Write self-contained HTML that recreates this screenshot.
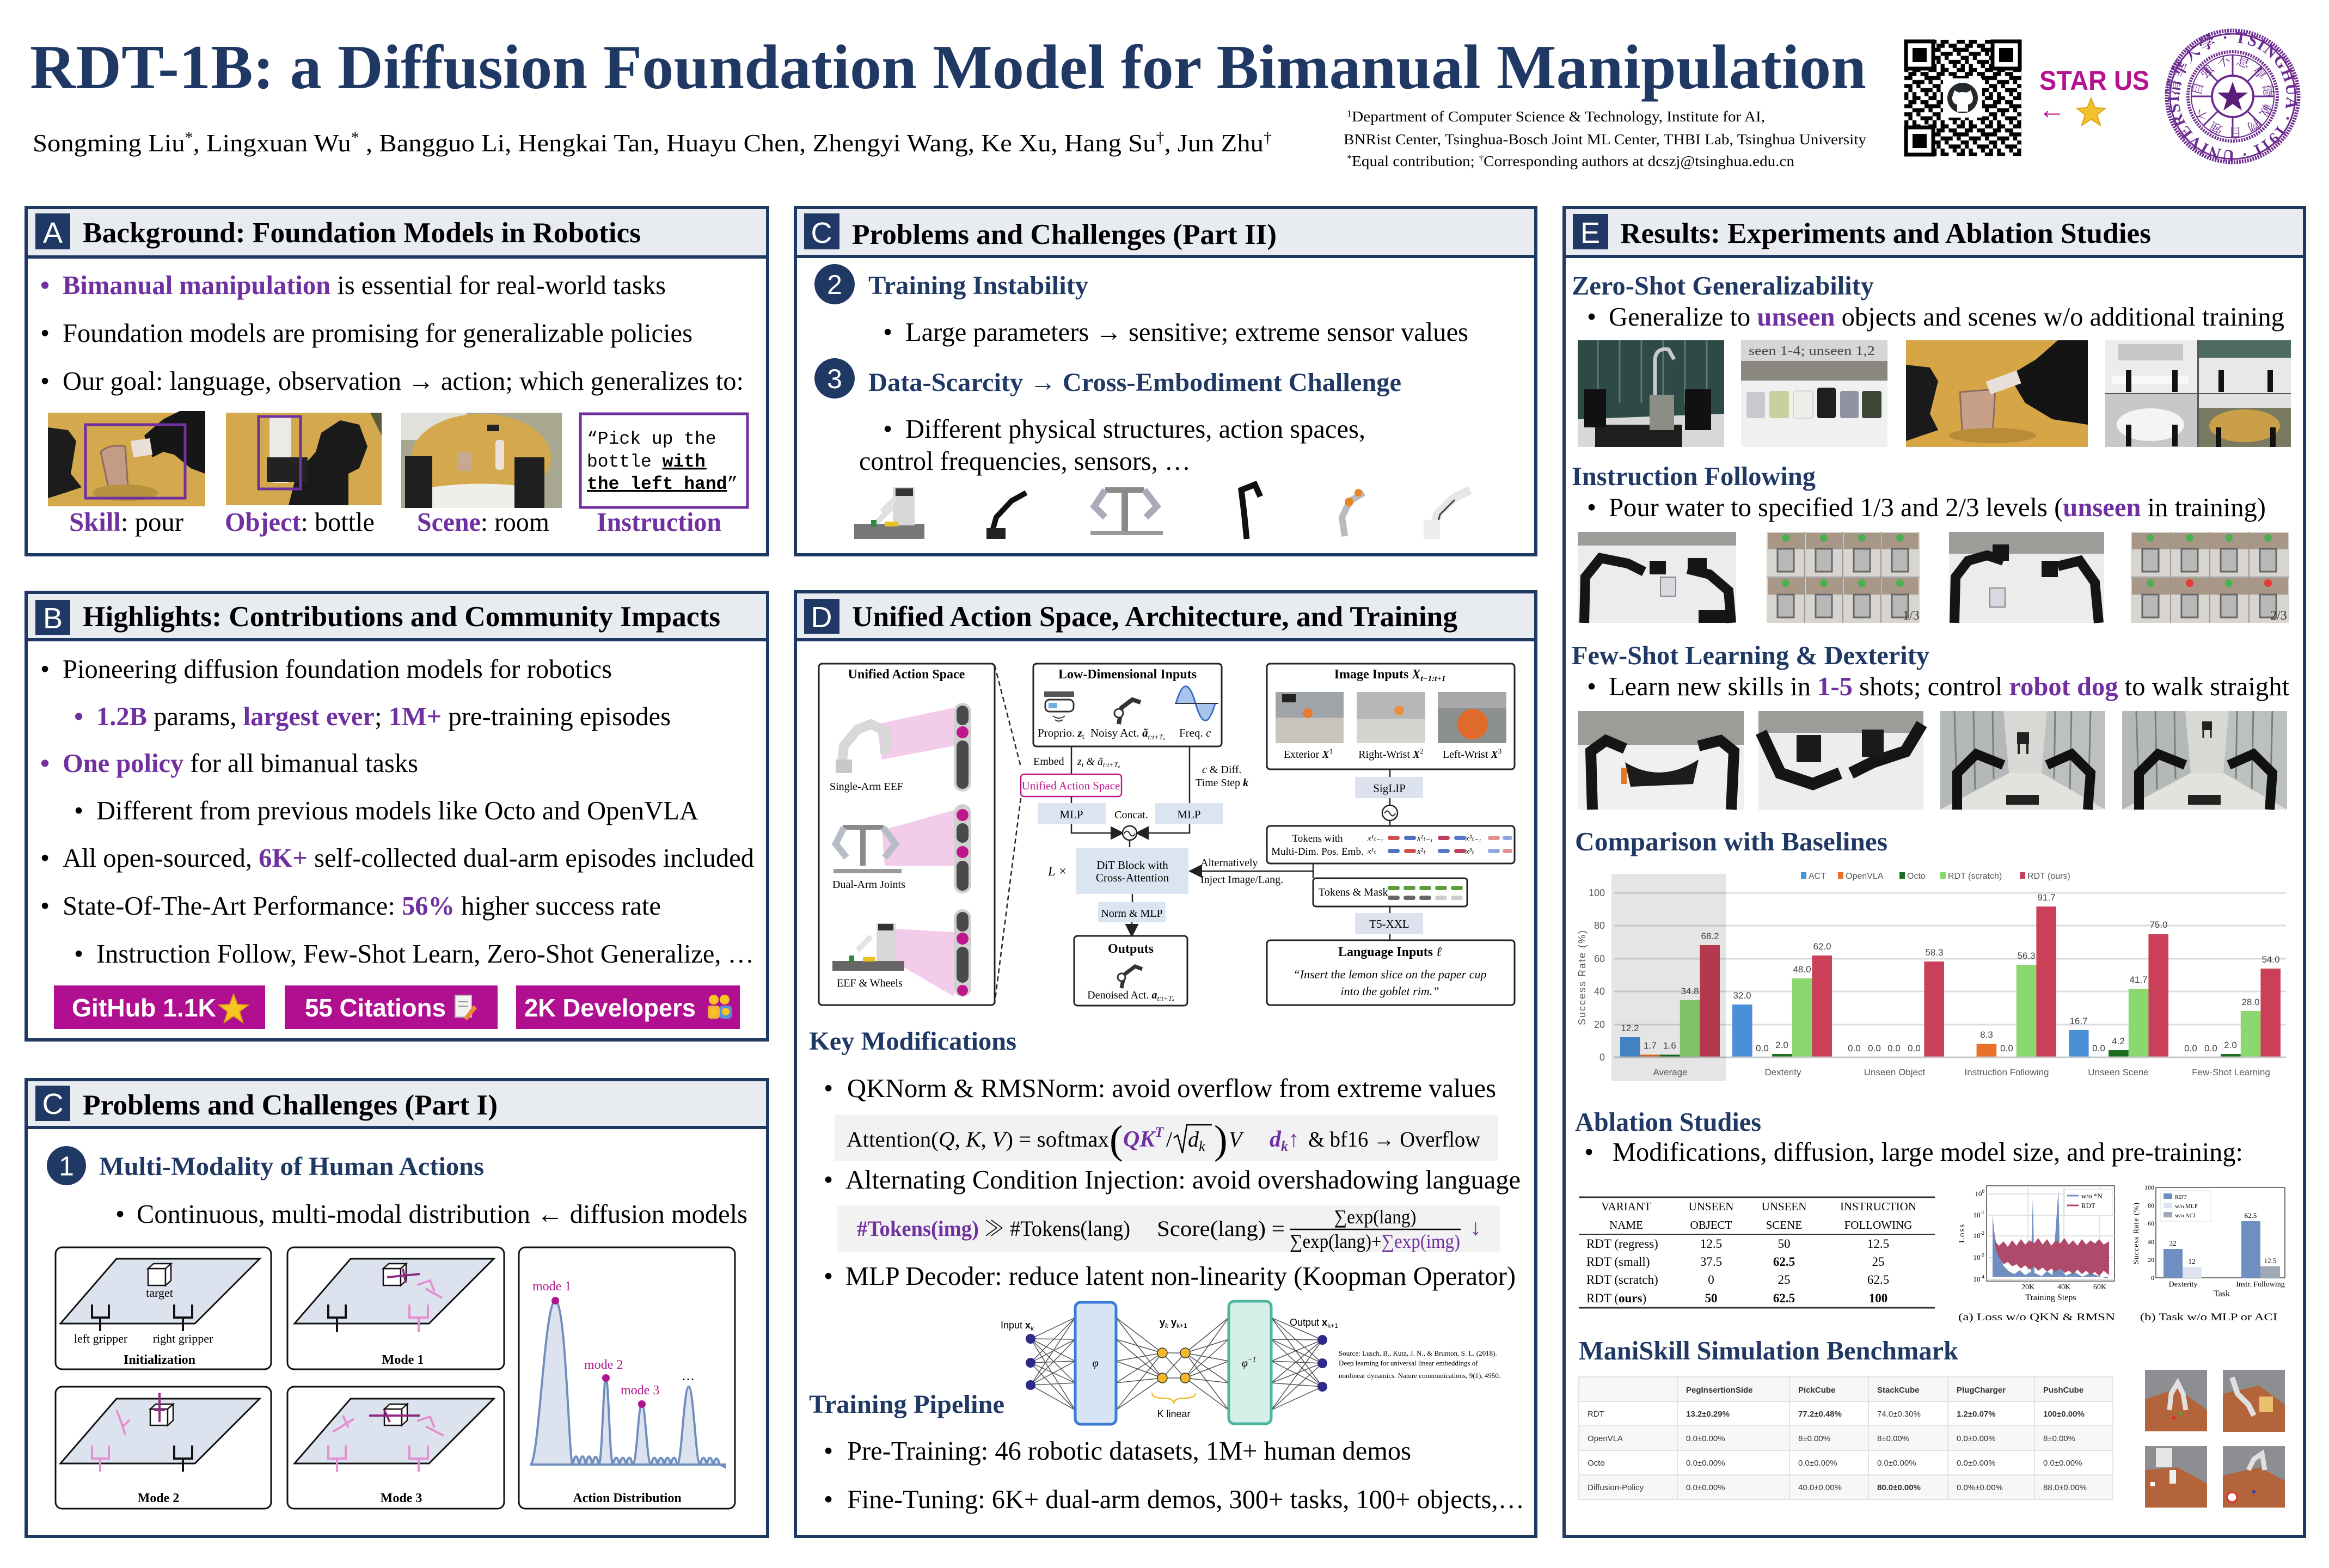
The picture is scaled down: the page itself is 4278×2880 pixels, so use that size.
<!DOCTYPE html>
<html><head><meta charset="utf-8">
<style>
html,body{margin:0;padding:0;background:#fff;}
svg{display:block}
.s{font-family:"Liberation Serif","Noto Serif CJK SC",serif}
.a{font-family:"Liberation Sans","Noto Sans CJK SC",sans-serif}
.m{font-family:"Liberation Mono",monospace}
.b{font-weight:bold}
.i{font-style:italic}
.p{fill:#7030a0;font-weight:bold}
.n{fill:#203864}
</style></head><body>
<svg width="4278" height="2880" viewBox="0 0 4278 2880" xmlns="http://www.w3.org/2000/svg">
<defs>
<pattern id="qr" x="3498" y="73" width="51.8" height="51.8" patternUnits="userSpaceOnUse">
<rect x="0" y="0" width="7.4" height="7.4"/><rect x="14.8" y="0" width="14.8" height="7.4"/><rect x="44.4" y="0" width="7.4" height="7.4"/>
<rect x="7.4" y="7.4" width="14.8" height="7.4"/><rect x="29.6" y="7.4" width="14.8" height="7.4"/>
<rect x="0" y="14.8" width="14.8" height="7.4"/><rect x="37" y="14.8" width="14.8" height="7.4"/>
<rect x="14.8" y="22.2" width="22.2" height="7.4"/><rect x="44.4" y="22.2" width="7.4" height="7.4"/>
<rect x="0" y="29.6" width="14.8" height="7.4"/><rect x="22.2" y="29.6" width="7.4" height="7.4"/>
<rect x="7.4" y="37" width="7.4" height="7.4"/><rect x="29.6" y="37" width="22.2" height="7.4"/>
<rect x="0" y="44.4" width="7.4" height="7.4"/><rect x="14.8" y="44.4" width="7.4" height="7.4"/><rect x="37" y="44.4" width="7.4" height="7.4"/>
</pattern>
<path id="tp" d="M4101,177 m-99,0 a99,99 0 1,1 198,0 a99,99 0 1,1 -198,0"/>
<path id="tp2" d="M4101,177 m-58,0 a58,58 0 1,1 116,0 a58,58 0 1,1 -116,0"/>
<marker id="ar" markerWidth="10" markerHeight="10" refX="8" refY="5" orient="auto"><path d="M0,0 L10,5 L0,10 z" fill="#222"/></marker>
</defs>
<rect width="4278" height="2880" fill="#fff"/>

<!-- ===== TITLE ===== -->
<text x="55" y="162" class="s b" font-size="116" fill="#203864" textLength="3373" lengthAdjust="spacingAndGlyphs">RDT-1B: a Diffusion Foundation Model for Bimanual Manipulation</text>
<text x="60" y="278" class="s" font-size="45" textLength="2276" lengthAdjust="spacingAndGlyphs">Songming Liu<tspan dy="-16" font-size="28">*</tspan><tspan dy="16">, Lingxuan Wu</tspan><tspan dy="-16" font-size="28">*</tspan><tspan dy="16"> , Bangguo Li, Hengkai Tan, Huayu Chen, Zhengyi Wang, Ke Xu, Hang Su</tspan><tspan dy="-16" font-size="28">†</tspan><tspan dy="16">, Jun Zhu</tspan><tspan dy="-16" font-size="28">†</tspan></text>
<text x="2474" y="223" class="s" font-size="27" textLength="768" lengthAdjust="spacingAndGlyphs"><tspan dy="-9" font-size="17">1</tspan><tspan dy="9">Department of Computer Science &amp; Technology, Institute for AI,</tspan></text>
<text x="2468" y="265" class="s" font-size="27" textLength="960" lengthAdjust="spacingAndGlyphs">BNRist Center, Tsinghua-Bosch Joint ML Center, THBI Lab, Tsinghua University</text>
<text x="2474" y="305" class="s" font-size="27" textLength="822" lengthAdjust="spacingAndGlyphs"><tspan dy="-9" font-size="17">*</tspan><tspan dy="9">Equal contribution; </tspan><tspan dy="-9" font-size="17">†</tspan><tspan dy="9">Corresponding authors at dcszj@tsinghua.edu.cn</tspan></text>

<!-- QR -->
<rect x="3498" y="73" width="215" height="214" fill="url(#qr)"/>
<g>
<rect x="3498" y="73" width="56" height="56" fill="#fff"/><rect x="3501" y="76" width="50" height="50" fill="none" stroke="#000" stroke-width="7"/><rect x="3513" y="88" width="26" height="26"/>
<rect x="3657" y="73" width="56" height="56" fill="#fff"/><rect x="3660" y="76" width="50" height="50" fill="none" stroke="#000" stroke-width="7"/><rect x="3672" y="88" width="26" height="26"/>
<rect x="3498" y="231" width="56" height="56" fill="#fff"/><rect x="3501" y="234" width="50" height="50" fill="none" stroke="#000" stroke-width="7"/><rect x="3513" y="246" width="26" height="26"/>
<rect x="3569" y="144" width="72" height="72" fill="#fff"/><circle cx="3605" cy="180" r="28" fill="#24292e"/>
<path d="M3595,205 L3595,192 Q3585,190 3586,178 L3590,166 L3598,170 Q3605,168 3612,170 L3620,166 L3624,178 Q3625,190 3615,192 L3615,205 Z" fill="#fff"/>
</g>
<text x="3746" y="165" class="a b" font-size="50" fill="#b5128f" textLength="202" lengthAdjust="spacingAndGlyphs">STAR US</text>
<text x="3744" y="218" class="a" font-size="50" fill="#b5128f">←</text>
<polygon points="3841,180 3848,198 3867,199 3852,211 3858,230 3841,219 3824,230 3830,211 3815,199 3834,198" fill="#f2c12e" stroke="#d9a514" stroke-width="2"/>

<!-- Tsinghua logo -->
<g fill="none" stroke="#6d2c8f">
<circle cx="4101" cy="177" r="121" stroke-width="7" stroke-dasharray="3,2"/>
<circle cx="4101" cy="177" r="115" stroke-width="3"/>
<circle cx="4101" cy="177" r="82" stroke-width="6" stroke-dasharray="3,2"/>
<circle cx="4101" cy="177" r="76" stroke-width="2"/>
<circle cx="4101" cy="177" r="38" stroke-width="4"/>
<g stroke-width="3">
<line x1="4101" y1="139" x2="4101" y2="101"/><line x1="4101" y1="215" x2="4101" y2="253"/>
<line x1="4063" y1="177" x2="4025" y2="177"/><line x1="4139" y1="177" x2="4177" y2="177"/>
<line x1="4128" y1="150" x2="4155" y2="123"/><line x1="4074" y1="150" x2="4047" y2="123"/>
<line x1="4128" y1="204" x2="4155" y2="231"/><line x1="4074" y1="204" x2="4047" y2="231"/>
</g>
</g>
<text class="s b" font-size="30" fill="#6d2c8f" letter-spacing="2"><textPath href="#tp">清華大學 · TSINGHUA · 1911 · UNIVERSITY · 清華大學 ·</textPath></text>
<text class="s" font-size="24" fill="#6d2c8f" letter-spacing="8"><textPath href="#tp2">自強不息厚德載物自強不息</textPath></text>
<polygon points="4101,150 4108,170 4129,170 4112,183 4118,203 4101,191 4084,203 4090,183 4073,170 4094,170" fill="#5a1e7a"/>

<!-- ===== PANEL A ===== -->
<rect x="48" y="381" width="1362" height="638" fill="#fff" stroke="#203864" stroke-width="6"/>
<rect x="51" y="384" width="1356" height="88" fill="#e8ebf0"/>
<line x1="48" y1="472" x2="1410" y2="472" stroke="#203864" stroke-width="6"/>
<rect x="65" y="392" width="64" height="66" fill="#203864"/>
<text x="97" y="446" text-anchor="middle" class="a" font-size="54" fill="#fff">A</text>
<text x="152" y="445" class="s b" font-size="53" textLength="1025" lengthAdjust="spacingAndGlyphs">Background: Foundation Models in Robotics</text>

<text x="74" y="540" class="s b" font-size="49" fill="#7030a0">•</text>
<text x="115" y="540" class="s" font-size="49" textLength="1108" lengthAdjust="spacingAndGlyphs"><tspan class="p">Bimanual manipulation</tspan> is essential for real-world tasks</text>
<text x="74" y="628" class="s" font-size="49">•</text>
<text x="115" y="628" class="s" font-size="49" textLength="1157" lengthAdjust="spacingAndGlyphs">Foundation models are promising for generalizable policies</text>
<text x="74" y="716" class="s" font-size="49">•</text>
<text x="115" y="716" class="s" font-size="49" textLength="1251" lengthAdjust="spacingAndGlyphs">Our goal: language, observation → action; which generalizes to:</text>

<!-- A images -->
<g>
<rect x="88" y="758" width="289" height="172" fill="#d4a94e"/>
<polygon points="88,785 125,790 140,810 130,870 150,895 120,905 88,915" fill="#1c1c1c"/>
<polygon points="265,800 300,770 330,755 377,755 377,870 350,860 320,835 300,830 280,840" fill="#161616"/>
<polygon points="240,810 275,805 280,835 245,840" fill="#e8e0d8"/>
<path d="M185,830 Q200,815 230,820 L235,895 Q220,908 200,900 Z" fill="#c49c86" stroke="#8c6c60" stroke-width="3"/>
<ellipse cx="230" cy="905" rx="60" ry="15" fill="#b8913e"/>
<rect x="157" y="780" width="183" height="135" fill="none" stroke="#7030a0" stroke-width="5"/>
</g>
<g>
<rect x="415" y="758" width="286" height="170" fill="#d4a94e"/>
<polygon points="680,758 701,758 701,800" fill="#5a5a3a"/>
<polygon points="530,928 545,870 580,830 590,795 625,772 660,780 675,820 660,860 640,870 640,928" fill="#1a1a1a"/>
<rect x="495" y="762" width="40" height="125" rx="10" fill="#eceae6"/>
<rect x="490" y="840" width="75" height="45" fill="#222"/>
<rect x="475" y="765" width="77" height="133" fill="none" stroke="#7030a0" stroke-width="5"/>
</g>
<g>
<rect x="737" y="758" width="295" height="175" fill="#a8a890"/>
<rect x="737" y="758" width="120" height="50" fill="#e0e0dc"/>
<ellipse cx="884" cy="840" rx="128" ry="80" fill="#d4a94e"/>
<path d="M780,897 Q884,880 990,897 L985,933 L785,933 Z" fill="#f0eee8"/>
<rect x="744" y="838" width="50" height="95" fill="#1e1e1e"/>
<rect x="945" y="840" width="55" height="93" fill="#1e1e1e"/>
<rect x="840" y="830" width="25" height="35" fill="#c8a890"/>
<rect x="910" y="808" width="16" height="55" rx="5" fill="#ece0d8"/>
<rect x="895" y="780" width="22" height="12" fill="#222"/>
</g>
<rect x="1066" y="760" width="307" height="172" fill="#fff" stroke="#7030a0" stroke-width="5"/>
<text x="1078" y="815" class="m" font-size="33">“Pick up the</text>
<text x="1078" y="857" class="m" font-size="33">bottle <tspan font-weight="bold" text-decoration="underline">with</tspan></text>
<text x="1078" y="898" class="m" font-size="33"><tspan font-weight="bold" text-decoration="underline">the left hand</tspan>”</text>
<line x1="1078" y1="902" x2="1312" y2="902" stroke="#000" stroke-width="2.5"/>
<line x1="1226" y1="861" x2="1298" y2="861" stroke="#000" stroke-width="2.5"/>

<text x="127" y="975" class="s" font-size="49" textLength="210" lengthAdjust="spacingAndGlyphs"><tspan class="p">Skill</tspan>: pour</text>
<text x="413" y="975" class="s" font-size="49" textLength="275" lengthAdjust="spacingAndGlyphs"><tspan class="p">Object</tspan>: bottle</text>
<text x="766" y="975" class="s" font-size="49" textLength="243" lengthAdjust="spacingAndGlyphs"><tspan class="p">Scene</tspan>: room</text>
<text x="1096" y="975" class="s p" font-size="49" textLength="229" lengthAdjust="spacingAndGlyphs">Instruction</text>

<!-- ===== PANEL B ===== -->
<rect x="48" y="1088" width="1362" height="822" fill="#fff" stroke="#203864" stroke-width="6"/>
<rect x="51" y="1091" width="1356" height="84" fill="#e8ebf0"/>
<line x1="48" y1="1175" x2="1410" y2="1175" stroke="#203864" stroke-width="6"/>
<rect x="65" y="1102" width="64" height="64" fill="#203864"/>
<text x="97" y="1154" text-anchor="middle" class="a" font-size="54" fill="#fff">B</text>
<text x="152" y="1150" class="s b" font-size="53" textLength="1171" lengthAdjust="spacingAndGlyphs">Highlights: Contributions and Community Impacts</text>

<text x="74" y="1245" class="s" font-size="49">•</text>
<text x="115" y="1245" class="s" font-size="49" textLength="1009" lengthAdjust="spacingAndGlyphs">Pioneering diffusion foundation models for robotics</text>
<text x="136" y="1332" class="s b" font-size="49" fill="#7030a0">•</text>
<text x="177" y="1332" class="s" font-size="49" textLength="1055" lengthAdjust="spacingAndGlyphs"><tspan class="p">1.2B</tspan> params, <tspan class="p">largest ever</tspan>; <tspan class="p">1M+</tspan> pre-training episodes</text>
<text x="74" y="1418" class="s b" font-size="49" fill="#7030a0">•</text>
<text x="115" y="1418" class="s" font-size="49" textLength="653" lengthAdjust="spacingAndGlyphs"><tspan class="p">One policy</tspan> for all bimanual tasks</text>
<text x="136" y="1505" class="s" font-size="49">•</text>
<text x="177" y="1505" class="s" font-size="49" textLength="1106" lengthAdjust="spacingAndGlyphs">Different from previous models like Octo and OpenVLA</text>
<text x="74" y="1592" class="s" font-size="49">•</text>
<text x="115" y="1592" class="s" font-size="49" textLength="1270" lengthAdjust="spacingAndGlyphs">All open-sourced, <tspan class="p">6K+</tspan> self-collected dual-arm episodes included</text>
<text x="74" y="1680" class="s" font-size="49">•</text>
<text x="115" y="1680" class="s" font-size="49" textLength="1099" lengthAdjust="spacingAndGlyphs">State-Of-The-Art Performance: <tspan class="p">56%</tspan> higher success rate</text>
<text x="136" y="1768" class="s" font-size="49">•</text>
<text x="177" y="1768" class="s" font-size="49" textLength="1208" lengthAdjust="spacingAndGlyphs">Instruction Follow, Few-Shot Learn, Zero-Shot Generalize, …</text>

<rect x="99" y="1810" width="388" height="80" fill="#b01090"/>
<text x="132" y="1867" class="a b" font-size="46" fill="#fff" textLength="265" lengthAdjust="spacingAndGlyphs">GitHub 1.1K</text>
<polygon points="429,1826 436,1845 456,1846 440,1858 446,1878 429,1866 412,1878 418,1858 402,1846 422,1845" fill="#f7c325" stroke="#e0a010" stroke-width="2"/>
<rect x="523" y="1810" width="391" height="80" fill="#b01090"/>
<text x="560" y="1867" class="a b" font-size="46" fill="#fff" textLength="259" lengthAdjust="spacingAndGlyphs">55 Citations</text>
<rect x="836" y="1828" width="30" height="40" fill="#f2f2f2" stroke="#bbb" stroke-width="2"/>
<line x1="842" y1="1840" x2="860" y2="1840" stroke="#999" stroke-width="2"/><line x1="842" y1="1848" x2="860" y2="1848" stroke="#999" stroke-width="2"/>
<polygon points="852,1870 870,1846 876,1852 858,1874" fill="#f08a30"/>
<rect x="948" y="1810" width="411" height="80" fill="#b01090"/>
<text x="963" y="1867" class="a b" font-size="46" fill="#fff" textLength="315" lengthAdjust="spacingAndGlyphs">2K Developers</text>
<circle cx="1311" cy="1836" r="9" fill="#f7c325"/><circle cx="1331" cy="1836" r="9" fill="#f7c325"/>
<rect x="1300" y="1847" width="22" height="24" rx="5" fill="#f4b03a"/><rect x="1322" y="1847" width="22" height="24" rx="5" fill="#5b8fd8"/>
<circle cx="1311" cy="1858" r="7" fill="#f7c325"/><circle cx="1333" cy="1858" r="7" fill="#f7c325"/>

<!-- ===== PANEL C-I ===== -->
<rect x="48" y="1983" width="1362" height="839" fill="#fff" stroke="#203864" stroke-width="6"/>
<rect x="51" y="1986" width="1356" height="85" fill="#e8ebf0"/>
<line x1="48" y1="2071" x2="1410" y2="2071" stroke="#203864" stroke-width="6"/>
<rect x="65" y="1994" width="64" height="65" fill="#203864"/>
<text x="97" y="2046" text-anchor="middle" class="a" font-size="54" fill="#fff">C</text>
<text x="152" y="2047" class="s b" font-size="53" textLength="762" lengthAdjust="spacingAndGlyphs">Problems and Challenges (Part I)</text>

<circle cx="122" cy="2141" r="36" fill="#203864"/>
<text x="122" y="2159" text-anchor="middle" class="a" font-size="50" fill="#fff">1</text>
<text x="182" y="2158" class="s b n" font-size="48" textLength="707" lengthAdjust="spacingAndGlyphs">Multi-Modality of Human Actions</text>
<text x="212" y="2246" class="s" font-size="49">•</text>
<text x="251" y="2246" class="s" font-size="49" textLength="1122" lengthAdjust="spacingAndGlyphs">Continuous, multi-modal distribution ← diffusion models</text>

<g fill="#fff" stroke="#111" stroke-width="3">
<rect x="102" y="2291" width="396" height="224" rx="12"/>
<rect x="528" y="2291" width="398" height="224" rx="12"/>
<rect x="102" y="2547" width="396" height="224" rx="12"/>
<rect x="528" y="2547" width="398" height="224" rx="12"/>
<rect x="953" y="2291" width="397" height="480" rx="12"/>
</g>
<g fill="#dde3ee" stroke="#111" stroke-width="3">
<polygon points="214,2312 477,2312 358,2431 111,2431"/>
<polygon points="644,2312 907,2312 788,2431 541,2431"/>
<polygon points="214,2569 477,2569 358,2688 111,2688"/>
<polygon points="644,2569 907,2569 788,2688 541,2688"/>
</g>
<g fill="#fff" stroke="#111" stroke-width="2.5">
<rect x="272" y="2330" width="32" height="31"/><polygon points="272,2330 282,2321 314,2321 304,2330"/><polygon points="304,2330 314,2321 314,2352 304,2361"/>
<rect x="704" y="2330" width="32" height="31"/><polygon points="704,2330 714,2321 746,2321 736,2330"/><polygon points="736,2330 746,2321 746,2352 736,2361"/>
<rect x="276" y="2588" width="32" height="30"/><polygon points="276,2588 286,2579 318,2579 308,2588"/><polygon points="308,2588 318,2579 318,2609 308,2618"/>
<rect x="706" y="2588" width="32" height="30"/><polygon points="706,2588 716,2579 748,2579 738,2588"/><polygon points="738,2588 748,2579 748,2609 738,2618"/>
</g>
<text x="293" y="2382" text-anchor="middle" class="s" font-size="22">target</text>
<g fill="none" stroke-width="4">
<path d="M169,2396 V2420 H200 V2396 M184,2420 V2445" stroke="#111"/>
<path d="M320,2396 V2420 H353 V2396 M336,2420 V2445" stroke="#111"/>
<path d="M603,2396 V2420 H635 V2396 M619,2420 V2447" stroke="#111"/>
<path d="M752,2396 V2420 H786 V2396 M769,2420 V2447" stroke="#e58fd0"/>
<path d="M711,2346 L771,2340 M740,2330 L745,2356" stroke="#8e2a7f"/>
<path d="M766,2360 L790,2352 L798,2372 M782,2367 L812,2384" stroke="#e58fd0"/>
<path d="M169,2655 V2679 H200 V2655 M184,2679 V2703" stroke="#e58fd0"/>
<path d="M320,2655 V2679 H353 V2655 M336,2679 V2703" stroke="#111"/>
<path d="M293,2558 V2612 M283,2590 H303" stroke="#8e2a7f"/>
<path d="M214,2590 L226,2620 M226,2620 L238,2608 M222,2610 L230,2635" stroke="#e58fd0"/>
<path d="M603,2655 V2679 H635 V2655 M619,2679 V2703" stroke="#e58fd0"/>
<path d="M752,2655 V2679 H786 V2655 M769,2679 V2703" stroke="#e58fd0"/>
<path d="M678,2600 H771 M706,2590 L716,2612" stroke="#8e2a7f"/>
<path d="M611,2630 L650,2606 M630,2600 L640,2622" stroke="#e58fd0"/>
<path d="M766,2610 L790,2602 L798,2622 M782,2620 L815,2637" stroke="#e58fd0"/>
</g>
<text x="185" y="2466" text-anchor="middle" class="s" font-size="22">left gripper</text>
<text x="336" y="2466" text-anchor="middle" class="s" font-size="22">right gripper</text>
<text x="293" y="2505" text-anchor="middle" class="s b" font-size="24">Initialization</text>
<text x="740" y="2505" text-anchor="middle" class="s b" font-size="24">Mode 1</text>
<text x="291" y="2759" text-anchor="middle" class="s b" font-size="24">Mode 2</text>
<text x="737" y="2759" text-anchor="middle" class="s b" font-size="24">Mode 3</text>
<text x="1152" y="2759" text-anchor="middle" class="s b" font-size="24">Action Distribution</text>
<path d="M974,2690 C990,2690 1000,2389 1020,2389 C1040,2389 1045,2690 1052,2690 Q1058,2660 1064,2690 Q1070,2660 1076,2690 Q1082,2660 1088,2690 Q1094,2662 1100,2690 C1106,2690 1108,2531 1113,2531 C1118,2531 1120,2690 1126,2690 Q1132,2665 1138,2690 Q1144,2665 1150,2690 Q1156,2665 1162,2690 C1170,2690 1172,2579 1179,2579 C1186,2579 1188,2690 1196,2690 Q1202,2665 1208,2690 Q1214,2665 1220,2690 Q1226,2665 1232,2690 Q1238,2665 1244,2690 C1252,2690 1256,2547 1265,2547 C1274,2547 1278,2690 1286,2690 Q1292,2665 1298,2690 Q1304,2665 1310,2690 Q1316,2668 1322,2690 L1332,2695 L1332,2690 Z" fill="#dde3ee" stroke="#6f8fbf" stroke-width="4"/>
<g fill="#b0168c"><circle cx="1020" cy="2389" r="7"/><circle cx="1113" cy="2531" r="7"/><circle cx="1179" cy="2579" r="7"/></g>
<text x="978" y="2370" class="s" font-size="24" fill="#b0168c">mode 1</text>
<text x="1073" y="2514" class="s" font-size="24" fill="#b0168c">mode 2</text>
<text x="1140" y="2561" class="s" font-size="24" fill="#b0168c">mode 3</text>
<text x="1252" y="2535" class="s" font-size="24">…</text>

<!-- ===== PANEL C-II ===== -->
<rect x="1461" y="381" width="1360" height="638" fill="#fff" stroke="#203864" stroke-width="6"/>
<rect x="1464" y="384" width="1354" height="87" fill="#e8ebf0"/>
<line x1="1461" y1="471" x2="2821" y2="471" stroke="#203864" stroke-width="6"/>
<rect x="1477" y="392" width="65" height="66" fill="#203864"/>
<text x="1509" y="446" text-anchor="middle" class="a" font-size="54" fill="#fff">C</text>
<text x="1565" y="448" class="s b" font-size="53" textLength="780" lengthAdjust="spacingAndGlyphs">Problems and Challenges (Part II)</text>
<circle cx="1533" cy="522" r="37" fill="#203864"/>
<text x="1533" y="540" text-anchor="middle" class="a" font-size="50" fill="#fff">2</text>
<text x="1595" y="540" class="s b n" font-size="48" textLength="404" lengthAdjust="spacingAndGlyphs">Training Instability</text>
<text x="1622" y="626" class="s" font-size="49">•</text>
<text x="1663" y="626" class="s" font-size="49" textLength="1034" lengthAdjust="spacingAndGlyphs">Large parameters → sensitive; extreme sensor values</text>
<circle cx="1533" cy="695" r="37" fill="#203864"/>
<text x="1533" y="713" text-anchor="middle" class="a" font-size="50" fill="#fff">3</text>
<text x="1595" y="718" class="s b n" font-size="48" textLength="979" lengthAdjust="spacingAndGlyphs">Data-Scarcity → Cross-Embodiment Challenge</text>
<text x="1622" y="804" class="s" font-size="49">•</text>
<text x="1663" y="804" class="s" font-size="49" textLength="845" lengthAdjust="spacingAndGlyphs">Different physical structures, action spaces,</text>
<text x="1578" y="863" class="s" font-size="49" textLength="609" lengthAdjust="spacingAndGlyphs">control frequencies, sensors, …</text>
<g>
<rect x="1569" y="962" width="129" height="28" fill="#777"/>
<rect x="1640" y="895" width="40" height="70" fill="#d8d8d8"/><rect x="1645" y="897" width="32" height="14" fill="#333"/>
<path d="M1620,940 L1645,915 M1610,960 L1640,930" stroke="#e0e0e0" stroke-width="10"/>
<rect x="1600" y="955" width="10" height="12" fill="#2a8a3a"/><rect x="1625" y="958" width="25" height="9" fill="#e8c020"/>
<path d="M1820,985 L1830,950 L1858,920 L1885,905" stroke="#111" stroke-width="10" fill="none"/><rect x="1812" y="970" width="35" height="20" fill="#222"/>
<rect x="2060" y="895" width="12" height="85" fill="#8a8a8a"/><rect x="2030" y="895" width="72" height="10" fill="#8a8a8a"/>
<path d="M2030,900 L2010,930 L2030,950 M2102,900 L2125,930 L2105,950" stroke="#aab" stroke-width="12" fill="none"/>
<rect x="2003" y="975" width="133" height="8" fill="#9a9a9a"/>
<path d="M2290,990 L2285,940 L2280,900 L2305,890 L2315,912" stroke="#111" stroke-width="11" fill="none"/>
<path d="M2470,985 L2465,950 L2480,920 L2505,905" stroke="#bbb" stroke-width="12" fill="none"/><circle cx="2478" cy="922" r="8" fill="#e8852a"/><circle cx="2495" cy="905" r="7" fill="#e8852a"/>
<path d="M2630,985 L2640,945 L2670,915 L2700,900" stroke="#e6e6e6" stroke-width="16" fill="none"/><path d="M2635,985 L2645,945 L2672,918" stroke="#444" stroke-width="3" fill="none"/><rect x="2615" y="955" width="30" height="35" fill="#ececec"/>
</g>

<!-- ===== PANEL D ===== -->
<rect x="1461" y="1087" width="1360" height="1735" fill="#fff" stroke="#203864" stroke-width="6"/>
<rect x="1464" y="1090" width="1354" height="85" fill="#e8ebf0"/>
<line x1="1461" y1="1175" x2="2821" y2="1175" stroke="#203864" stroke-width="6"/>
<rect x="1477" y="1100" width="65" height="64" fill="#203864"/>
<text x="1509" y="1152" text-anchor="middle" class="a" font-size="54" fill="#fff">D</text>
<text x="1565" y="1150" class="s b" font-size="53" textLength="1112" lengthAdjust="spacingAndGlyphs">Unified Action Space, Architecture, and Training</text>

<rect x="1504" y="1219" width="323" height="627" rx="6" fill="#fff" stroke="#222" stroke-width="3"/>
<text x="1665" y="1246" text-anchor="middle" class="s b" font-size="24">Unified Action Space</text>
<g fill="#e7a3d8" opacity="0.55">
<polygon points="1610,1330 1752,1300 1752,1370 1620,1395"/>
<polygon points="1620,1525 1752,1488 1752,1590 1625,1590"/>
<polygon points="1630,1705 1752,1712 1752,1830 1640,1765"/>
</g>
<g>
<path d="M1545,1415 L1550,1370 L1575,1340 L1600,1330 L1630,1345 L1625,1385" stroke="#d8d8d8" stroke-width="18" fill="none"/>
<rect x="1535" y="1395" width="30" height="25" fill="#c8c8c8"/>
<rect x="1580" y="1520" width="10" height="70" fill="#8a8a8a"/><rect x="1548" y="1515" width="75" height="9" fill="#8a8a8a"/>
<path d="M1550,1520 L1535,1550 L1555,1575 M1622,1520 L1645,1550 L1625,1575" stroke="#b8bcc6" stroke-width="12" fill="none"/>
<rect x="1531" y="1596" width="125" height="8" fill="#9a9a9a"/>
<rect x="1529" y="1765" width="132" height="18" fill="#666"/>
<rect x="1610" y="1695" width="35" height="70" fill="#d8d8d8"/><rect x="1613" y="1697" width="28" height="12" fill="#333"/>
<path d="M1575,1745 L1600,1720" stroke="#e4e4e4" stroke-width="10"/>
<rect x="1560" y="1755" width="9" height="12" fill="#2a8a3a"/><rect x="1585" y="1758" width="22" height="8" fill="#e8c020"/>
</g>
<text x="1524" y="1451" class="s" font-size="20">Single-Arm EEF</text>
<text x="1529" y="1631" class="s" font-size="20">Dual-Arm Joints</text>
<text x="1537" y="1812" class="s" font-size="20">EEF &amp; Wheels</text>
<g>
<rect x="1752" y="1291" width="32" height="163" rx="16" fill="#d0d0d0"/>
<rect x="1757" y="1296" width="22" height="36" rx="11" fill="#4a4a4a"/><circle cx="1768" cy="1345" r="11" fill="#c0168c"/><rect x="1757" y="1360" width="22" height="89" rx="11" fill="#4a4a4a"/>
<rect x="1752" y="1477" width="32" height="164" rx="16" fill="#d0d0d0"/>
<circle cx="1768" cy="1497" r="11" fill="#c0168c"/><rect x="1757" y="1512" width="22" height="36" rx="11" fill="#4a4a4a"/><circle cx="1768" cy="1565" r="11" fill="#c0168c"/><rect x="1757" y="1581" width="22" height="55" rx="11" fill="#4a4a4a"/>
<rect x="1752" y="1670" width="32" height="161" rx="16" fill="#d0d0d0"/>
<rect x="1757" y="1675" width="22" height="36" rx="11" fill="#4a4a4a"/><circle cx="1768" cy="1724" r="11" fill="#c0168c"/><rect x="1757" y="1739" width="22" height="66" rx="11" fill="#4a4a4a"/><circle cx="1768" cy="1819" r="10" fill="#c0168c"/>
</g>
<g stroke="#222" stroke-width="2.5" stroke-dasharray="9,6" fill="none">
<line x1="1827" y1="1222" x2="1875" y2="1408"/>
<line x1="1875" y1="1466" x2="1827" y2="1843"/>
</g>

<rect x="1898" y="1219" width="346" height="152" rx="6" fill="#fff" stroke="#222" stroke-width="3"/>
<text x="2071" y="1246" text-anchor="middle" class="s b" font-size="24">Low-Dimensional Inputs</text>
<rect x="1918" y="1270" width="55" height="10" fill="#555"/><rect x="1920" y="1285" width="52" height="22" rx="8" fill="#fff" stroke="#333" stroke-width="3"/><rect x="1926" y="1291" width="16" height="10" fill="#6ab0e0"/>
<path d="M1934,1315 q11,8 22,0 M1938,1322 q7,5 14,0" stroke="#333" stroke-width="2" fill="none"/>
<path d="M2055,1330 L2060,1300 L2080,1285 L2095,1290" stroke="#333" stroke-width="8" fill="none"/><circle cx="2055" cy="1310" r="8" fill="#fff" stroke="#333" stroke-width="3"/>
<path d="M2160,1292 C2172,1250 2184,1250 2196,1292 C2208,1334 2220,1334 2232,1292" stroke="#3a6fc0" stroke-width="3" fill="#a8c4ec"/>
<line x1="2158" y1="1292" x2="2238" y2="1292" stroke="#333" stroke-width="2"/>
<text x="1906" y="1353" class="s" font-size="21">Proprio. <tspan class="i b">z</tspan><tspan font-size="14" dy="4">t</tspan></text>
<text x="2003" y="1353" class="s" font-size="21">Noisy Act. <tspan class="i b">ã</tspan><tspan font-size="13" dy="5" class="i">t:t+Tₐ</tspan></text>
<text x="2166" y="1353" class="s" font-size="21">Freq. <tspan class="i">c</tspan></text>
<line x1="1968" y1="1371" x2="1968" y2="1422" stroke="#222" stroke-width="2.5"/>
<line x1="2185" y1="1371" x2="2185" y2="1475" stroke="#222" stroke-width="2.5"/>
<text x="1898" y="1405" class="s" font-size="20">Embed</text>
<text x="1979" y="1405" class="s i" font-size="20">z<tspan font-size="13" dy="4">t</tspan><tspan dy="-4"> &amp; ã</tspan><tspan font-size="13" dy="4">t:t+Tₐ</tspan></text>
<text x="2208" y="1420" class="s" font-size="20"><tspan class="i">c</tspan> &amp; Diff.</text>
<text x="2196" y="1444" class="s" font-size="20">Time Step <tspan class="i b">k</tspan></text>
<rect x="1875" y="1422" width="185" height="41" rx="6" fill="#fff" stroke="#c0168c" stroke-width="2.5"/>
<text x="1967" y="1450" text-anchor="middle" class="s" font-size="21" fill="#c0168c">Unified Action Space</text>
<line x1="1968" y1="1463" x2="1968" y2="1475" stroke="#222" stroke-width="2.5"/>
<rect x="1906" y="1475" width="125" height="39" fill="#dbe5f1"/>
<text x="1968" y="1503" text-anchor="middle" class="s" font-size="21">MLP</text>
<rect x="2122" y="1475" width="124" height="39" fill="#dbe5f1"/>
<text x="2184" y="1503" text-anchor="middle" class="s" font-size="21">MLP</text>
<text x="2078" y="1503" text-anchor="middle" class="s" font-size="20">Concat.</text>
<path d="M1968,1514 V1530 H2060" stroke="#222" stroke-width="2.5" fill="none" marker-end="url(#ar)"/>
<path d="M2185,1514 V1530 H2090" stroke="#222" stroke-width="2.5" fill="none" marker-end="url(#ar)"/>
<circle cx="2075" cy="1530" r="13" fill="#fff" stroke="#222" stroke-width="2.5"/>
<path d="M2065,1531 q5,-9 10,0 q5,9 10,0" stroke="#222" stroke-width="2" fill="none"/>
<line x1="2075" y1="1543" x2="2075" y2="1556" stroke="#222" stroke-width="2.5"/>
<rect x="1977" y="1558" width="206" height="84" fill="#dbe5f1"/>
<text x="2080" y="1596" text-anchor="middle" class="s" font-size="21">DiT Block with</text>
<text x="2080" y="1619" text-anchor="middle" class="s" font-size="21">Cross-Attention</text>
<text x="1925" y="1608" class="s i" font-size="24">L ×</text>
<line x1="2080" y1="1642" x2="2080" y2="1657" stroke="#222" stroke-width="2.5"/>
<rect x="2017" y="1657" width="124" height="37" fill="#dbe5f1"/>
<text x="2079" y="1684" text-anchor="middle" class="s" font-size="20">Norm &amp; MLP</text>
<line x1="2079" y1="1694" x2="2079" y2="1717" stroke="#222" stroke-width="2.5" marker-end="url(#ar)"/>
<rect x="1973" y="1719" width="208" height="128" rx="6" fill="#fff" stroke="#222" stroke-width="3"/>
<text x="2077" y="1750" text-anchor="middle" class="s b" font-size="24">Outputs</text>
<path d="M2060,1815 L2065,1790 L2085,1775 L2098,1780" stroke="#333" stroke-width="7" fill="none"/><circle cx="2060" cy="1795" r="7" fill="#fff" stroke="#333" stroke-width="3"/>
<text x="2077" y="1834" text-anchor="middle" class="s" font-size="20">Denoised Act. <tspan class="i b">a</tspan><tspan class="i" font-size="13" dy="4">t:t+Tₐ</tspan></text>
<line x1="2412" y1="1600" x2="2188" y2="1600" stroke="#222" stroke-width="2.5" marker-end="url(#ar)"/>
<line x1="2412" y1="1586" x2="2412" y2="1613" stroke="#222" stroke-width="2.5"/>
<text x="2205" y="1591" class="s" font-size="20">Alternatively</text>
<text x="2205" y="1622" class="s" font-size="20">Inject Image/Lang.</text>

<rect x="2327" y="1219" width="455" height="194" rx="6" fill="#fff" stroke="#222" stroke-width="3"/>
<text x="2553" y="1246" text-anchor="middle" class="s b" font-size="24">Image Inputs <tspan class="i">X</tspan><tspan font-size="15" dy="5" class="i">t−1:t+1</tspan></text>
<rect x="2343" y="1271" width="125" height="94" fill="#9ea4a8"/><rect x="2343" y="1318" width="125" height="47" fill="#c8c4bc"/><circle cx="2402" cy="1310" r="9" fill="#e87a30"/><rect x="2355" y="1275" width="25" height="15" fill="#222"/>
<rect x="2492" y="1271" width="126" height="94" fill="#b6b8b8"/><rect x="2492" y="1320" width="126" height="45" fill="#d6d4d0"/><circle cx="2570" cy="1305" r="9" fill="#e89040"/>
<rect x="2641" y="1271" width="126" height="94" fill="#8c8f90"/><circle cx="2705" cy="1330" r="28" fill="#e06a2a"/><rect x="2641" y="1271" width="126" height="30" fill="#a8a8a8"/>
<text x="2403" y="1392" text-anchor="middle" class="s" font-size="20">Exterior <tspan class="i b">X</tspan><tspan font-size="13" dy="-8">1</tspan></text>
<text x="2555" y="1392" text-anchor="middle" class="s" font-size="20">Right-Wrist <tspan class="i b">X</tspan><tspan font-size="13" dy="-8">2</tspan></text>
<text x="2704" y="1392" text-anchor="middle" class="s" font-size="20">Left-Wrist <tspan class="i b">X</tspan><tspan font-size="13" dy="-8">3</tspan></text>
<line x1="2553" y1="1413" x2="2553" y2="1427" stroke="#222" stroke-width="2.5"/>
<rect x="2489" y="1427" width="125" height="39" fill="#dde3ee"/>
<text x="2552" y="1455" text-anchor="middle" class="s" font-size="21">SigLIP</text>
<line x1="2553" y1="1466" x2="2553" y2="1479" stroke="#222" stroke-width="2.5"/>
<circle cx="2553" cy="1493" r="14" fill="#fff" stroke="#222" stroke-width="2.5"/>
<path d="M2543,1494 q5,-9 10,0 q5,9 10,0" stroke="#222" stroke-width="2" fill="none"/>
<line x1="2553" y1="1507" x2="2553" y2="1517" stroke="#222" stroke-width="2.5"/>
<rect x="2327" y="1517" width="455" height="69" rx="6" fill="#fff" stroke="#222" stroke-width="3"/>
<text x="2420" y="1546" text-anchor="middle" class="s" font-size="19">Tokens with</text>
<text x="2420" y="1570" text-anchor="middle" class="s" font-size="19">Multi-Dim. Pos. Emb.</text>
<g class="s i" font-size="15">
<text x="2512" y="1544">x¹ₜ₋₁</text><text x="2512" y="1568">x¹ₜ</text>
<text x="2603" y="1544">x²ₜ₋₁</text><text x="2603" y="1568">x²ₜ</text>
<text x="2692" y="1544">x³ₜ₋₁</text><text x="2692" y="1568">x³ₜ</text>
</g>
<g>
<rect x="2549" y="1535" width="22" height="8" rx="4" fill="#d05050"/><rect x="2579" y="1535" width="22" height="8" rx="4" fill="#5070c0"/>
<rect x="2641" y="1535" width="22" height="8" rx="4" fill="#c04060"/><rect x="2671" y="1535" width="22" height="8" rx="4" fill="#5878c8"/>
<rect x="2733" y="1535" width="22" height="8" rx="4" fill="#e09090"/><rect x="2760" y="1535" width="18" height="8" rx="4" fill="#90a8e0"/>
<rect x="2549" y="1559" width="22" height="8" rx="4" fill="#5070c0"/><rect x="2579" y="1559" width="22" height="8" rx="4" fill="#d05050"/>
<rect x="2641" y="1559" width="22" height="8" rx="4" fill="#5878c8"/><rect x="2671" y="1559" width="22" height="8" rx="4" fill="#c04060"/>
<rect x="2733" y="1559" width="22" height="8" rx="4" fill="#90a8e0"/><rect x="2760" y="1559" width="18" height="8" rx="4" fill="#e09090"/>
</g>
<rect x="2412" y="1613" width="283" height="52" rx="5" fill="#fff" stroke="#222" stroke-width="3"/>
<text x="2422" y="1645" class="s" font-size="20">Tokens &amp; Mask</text>
<g fill="#5a9e3a"><rect x="2549" y="1627" width="22" height="8" rx="4"/><rect x="2578" y="1627" width="22" height="8" rx="4"/><rect x="2607" y="1627" width="22" height="8" rx="4"/><rect x="2636" y="1627" width="22" height="8" rx="4"/><rect x="2665" y="1627" width="22" height="8" rx="4"/></g>
<rect x="2549" y="1645" width="22" height="8" rx="4" fill="#666"/><rect x="2578" y="1645" width="22" height="8" rx="4" fill="#666"/><rect x="2607" y="1645" width="22" height="8" rx="4" fill="#666"/><rect x="2636" y="1645" width="22" height="8" rx="4" fill="#ccc"/><rect x="2665" y="1645" width="22" height="8" rx="4" fill="#ccc"/>
<line x1="2553" y1="1665" x2="2553" y2="1677" stroke="#222" stroke-width="2.5"/>
<rect x="2489" y="1677" width="125" height="39" fill="#dde3ee"/>
<text x="2552" y="1704" text-anchor="middle" class="s" font-size="21">T5-XXL</text>
<line x1="2553" y1="1716" x2="2553" y2="1727" stroke="#222" stroke-width="2.5"/>
<rect x="2327" y="1727" width="455" height="119" rx="6" fill="#fff" stroke="#222" stroke-width="3"/>
<text x="2553" y="1756" text-anchor="middle" class="s b" font-size="24">Language Inputs <tspan class="i" font-weight="normal">ℓ</tspan></text>
<text x="2553" y="1797" text-anchor="middle" class="s i" font-size="22">“Insert the lemon slice on the paper cup</text>
<text x="2553" y="1828" text-anchor="middle" class="s i" font-size="22">into the goblet rim.”</text>

<text x="1486" y="1928" class="s b n" font-size="48" textLength="381" lengthAdjust="spacingAndGlyphs">Key Modifications</text>
<text x="1513" y="2015" class="s" font-size="49">•</text>
<text x="1556" y="2015" class="s" font-size="49" textLength="1192" lengthAdjust="spacingAndGlyphs">QKNorm &amp; RMSNorm: avoid overflow from extreme values</text>
<rect x="1533" y="2047" width="1219" height="85" fill="#f2f2f2"/>
<text x="1555" y="2106" class="s" font-size="40" textLength="482" lengthAdjust="spacingAndGlyphs">Attention(<tspan class="i">Q</tspan>, <tspan class="i">K</tspan>, <tspan class="i">V</tspan>) = softmax</text>
<text x="2038" y="2118" class="s" font-size="74">(</text>
<text x="2063" y="2106" class="s b i" font-size="42" fill="#7030a0">QK<tspan font-size="26" dy="-18">T</tspan></text>
<text x="2142" y="2106" class="s" font-size="40">/</text>
<path d="M2156,2090 L2163,2085 L2172,2118 L2180,2066 H2226" stroke="#000" stroke-width="2.5" fill="none"/>
<text x="2182" y="2106" class="s i" font-size="40">d<tspan font-size="26" dy="8">k</tspan></text>
<text x="2230" y="2118" class="s" font-size="74">)</text>
<text x="2257" y="2106" class="s i" font-size="40">V</text>
<text x="2332" y="2106" class="s b i" font-size="42" fill="#7030a0">d<tspan font-size="26" dy="8">k</tspan><tspan dy="-8" font-style="normal">↑</tspan></text>
<text x="2403" y="2106" class="s" font-size="40" textLength="316" lengthAdjust="spacingAndGlyphs">&amp; bf16 → Overflow</text>
<text x="1513" y="2183" class="s" font-size="49">•</text>
<text x="1553" y="2183" class="s" font-size="49" textLength="1240" lengthAdjust="spacingAndGlyphs">Alternating Condition Injection: avoid overshadowing language</text>
<rect x="1537" y="2214" width="1218" height="86" fill="#f2f2f2"/>
<text x="1574" y="2270" class="s b" font-size="40" fill="#7030a0" textLength="224" lengthAdjust="spacingAndGlyphs">#Tokens(img)</text>
<text x="1807" y="2270" class="s" font-size="40" textLength="269" lengthAdjust="spacingAndGlyphs">≫ #Tokens(lang)</text>
<text x="2125" y="2270" class="s" font-size="40" textLength="235" lengthAdjust="spacingAndGlyphs">Score(lang) =</text>
<text x="2526" y="2247" text-anchor="middle" class="s" font-size="36" textLength="151" lengthAdjust="spacingAndGlyphs">∑exp(lang)</text>
<line x1="2369" y1="2258" x2="2683" y2="2258" stroke="#000" stroke-width="2.5"/>
<text x="2369" y="2292" class="s" font-size="36" textLength="313" lengthAdjust="spacingAndGlyphs">∑exp(lang)+<tspan fill="#7030a0">∑exp(img)</tspan></text>
<text x="2700" y="2268" class="s" font-size="42" fill="#7030a0">↓</text>
<text x="1513" y="2360" class="s" font-size="49">•</text>
<text x="1553" y="2360" class="s" font-size="49" textLength="1231" lengthAdjust="spacingAndGlyphs">MLP Decoder: reduce latent non-linearity (Koopman Operator)</text>

<g stroke="#555" stroke-width="1.5">
<path d="M1893,2459 L1975,2420 M1893,2459 L1975,2460 M1893,2459 L1975,2500 M1893,2459 L1975,2540 M1893,2459 L1975,2590
M1893,2503 L1975,2420 M1893,2503 L1975,2460 M1893,2503 L1975,2500 M1893,2503 L1975,2540 M1893,2503 L1975,2590
M1893,2544 L1975,2420 M1893,2544 L1975,2460 M1893,2544 L1975,2500 M1893,2544 L1975,2540 M1893,2544 L1975,2590
M2050,2420 L2135,2485 M2050,2460 L2135,2485 M2050,2500 L2135,2485 M2050,2540 L2135,2485 M2050,2590 L2135,2485
M2050,2420 L2135,2531 M2050,2460 L2135,2531 M2050,2500 L2135,2531 M2050,2540 L2135,2531 M2050,2590 L2135,2531
M2135,2485 L2177,2485 M2135,2531 L2177,2531 M2135,2485 L2177,2531 M2135,2531 L2177,2485
M2177,2485 L2257,2420 M2177,2485 L2257,2460 M2177,2485 L2257,2500 M2177,2485 L2257,2540 M2177,2485 L2257,2590
M2177,2531 L2257,2420 M2177,2531 L2257,2460 M2177,2531 L2257,2500 M2177,2531 L2257,2540 M2177,2531 L2257,2590
M2335,2420 L2429,2461 M2335,2460 L2429,2461 M2335,2500 L2429,2461 M2335,2540 L2429,2461 M2335,2590 L2429,2461
M2335,2420 L2429,2504 M2335,2460 L2429,2504 M2335,2500 L2429,2504 M2335,2540 L2429,2504 M2335,2590 L2429,2504
M2335,2420 L2429,2547 M2335,2460 L2429,2547 M2335,2500 L2429,2547 M2335,2540 L2429,2547 M2335,2590 L2429,2547"/>
</g>
<rect x="1975" y="2392" width="75" height="224" rx="10" fill="#d6e4f5" stroke="#3a7bd5" stroke-width="5"/>
<text x="2012" y="2510" text-anchor="middle" class="s i" font-size="20">φ</text>
<rect x="2257" y="2390" width="78" height="225" rx="10" fill="#d6efe8" stroke="#4db6a0" stroke-width="5"/>
<text x="2294" y="2510" text-anchor="middle" class="s i" font-size="20">φ<tspan font-size="13" dy="-9">−1</tspan></text>
<g fill="#2e2a8c"><circle cx="1893" cy="2459" r="9"/><circle cx="1893" cy="2503" r="9"/><circle cx="1893" cy="2544" r="9"/><circle cx="2429" cy="2461" r="9"/><circle cx="2429" cy="2504" r="9"/><circle cx="2429" cy="2547" r="9"/></g>
<g fill="#f2b928" stroke="#333" stroke-width="1.5"><circle cx="2135" cy="2485" r="9"/><circle cx="2177" cy="2485" r="9"/><circle cx="2135" cy="2531" r="9"/><circle cx="2177" cy="2531" r="9"/></g>
<text x="1838" y="2440" class="a" font-size="18">Input <tspan font-weight="bold">x</tspan><tspan class="i" font-size="12" dy="4">k</tspan></text>
<text x="2130" y="2435" class="a b" font-size="18">y<tspan class="i" font-size="12" dy="4" font-weight="normal">k</tspan><tspan dy="-4">  y</tspan><tspan font-size="12" dy="4" font-weight="normal">k+1</tspan></text>
<text x="2369" y="2435" class="a" font-size="18">Output <tspan font-weight="bold">x</tspan><tspan font-size="12" dy="4">k+1</tspan></text>
<path d="M2116,2558 q0,10 20,10 q20,0 20,10 q0,-10 20,-10 q20,0 20,-10" stroke="#f2b928" stroke-width="2.5" fill="none"/>
<text x="2156" y="2603" text-anchor="middle" class="a" font-size="18">K linear</text>
<text x="2459" y="2490" class="s" font-size="13">Source: Lusch, B., Kutz, J. N., &amp; Brunton, S. L. (2018).</text>
<text x="2459" y="2508" class="s" font-size="13">Deep learning for universal linear embeddings of</text>
<text x="2459" y="2531" class="s" font-size="13">nonlinear dynamics. Nature communications, 9(1), 4950.</text>

<text x="1486" y="2595" class="s b n" font-size="48" textLength="359" lengthAdjust="spacingAndGlyphs">Training Pipeline</text>
<text x="1513" y="2681" class="s" font-size="49">•</text>
<text x="1556" y="2681" class="s" font-size="49" textLength="1036" lengthAdjust="spacingAndGlyphs">Pre-Training: 46 robotic datasets, 1M+ human demos</text>
<text x="1513" y="2770" class="s" font-size="49">•</text>
<text x="1556" y="2770" class="s" font-size="49" textLength="1244" lengthAdjust="spacingAndGlyphs">Fine-Tuning: 6K+ dual-arm demos, 300+ tasks, 100+ objects,…</text>

<!-- ===== PANEL E ===== -->
<rect x="2873" y="381" width="1360" height="2441" fill="#fff" stroke="#203864" stroke-width="6"/>
<rect x="2876" y="384" width="1354" height="87" fill="#e8ebf0"/>
<line x1="2873" y1="471" x2="4233" y2="471" stroke="#203864" stroke-width="6"/>
<rect x="2889" y="393" width="65" height="65" fill="#203864"/>
<text x="2921" y="446" text-anchor="middle" class="a" font-size="54" fill="#fff">E</text>
<text x="2976" y="446" class="s b" font-size="53" textLength="975" lengthAdjust="spacingAndGlyphs">Results: Experiments and Ablation Studies</text>

<text x="2887" y="541" class="s b n" font-size="49" textLength="555" lengthAdjust="spacingAndGlyphs">Zero-Shot Generalizability</text>
<text x="2915" y="598" class="s" font-size="49">•</text>
<text x="2955" y="598" class="s" font-size="49" textLength="1241" lengthAdjust="spacingAndGlyphs">Generalize to <tspan class="p">unseen</tspan> objects and scenes w/o additional training</text>
<g>
<rect x="2898" y="625" width="269" height="196" fill="#2e4a47"/>
<g stroke="#5a7a76" stroke-width="3"><line x1="2935" y1="625" x2="2935" y2="740"/><line x1="2975" y1="625" x2="2975" y2="740"/><line x1="3015" y1="625" x2="3015" y2="740"/><line x1="3055" y1="625" x2="3055" y2="740"/><line x1="3095" y1="625" x2="3095" y2="740"/><line x1="3135" y1="625" x2="3135" y2="740"/></g>
<path d="M3040,745 L3040,660 Q3042,638 3065,642 L3075,660" stroke="#c8c8c8" stroke-width="7" fill="none"/>
<polygon points="2898,770 3167,760 3167,821 2898,821" fill="#d8d8d8"/>
<rect x="2930" y="780" width="160" height="41" fill="#1e1e1e"/>
<rect x="3030" y="725" width="45" height="65" fill="#8a8e84"/>
<rect x="2910" y="715" width="40" height="70" fill="#111"/><rect x="3095" y="715" width="48" height="75" fill="#111"/>
</g>
<g>
<rect x="3198" y="625" width="269" height="196" fill="#f0f0f0"/>
<rect x="3198" y="625" width="269" height="38" fill="#d6d6d6"/>
<rect x="3198" y="663" width="269" height="36" fill="#8a8680"/>
<text x="3212" y="652" class="s" font-size="24" fill="#444" textLength="232" lengthAdjust="spacingAndGlyphs">seen 1-4; unseen 1,2</text>
<rect x="3208" y="720" width="34" height="48" rx="4" fill="#c7c9cc"/><rect x="3250" y="718" width="36" height="50" rx="4" fill="#c8d0a0"/><rect x="3294" y="718" width="36" height="50" rx="4" fill="#f0eeea" stroke="#bbb"/><rect x="3338" y="712" width="34" height="56" rx="4" fill="#1e1e1e"/><rect x="3380" y="718" width="34" height="50" rx="4" fill="#9094a0"/><rect x="3420" y="718" width="36" height="50" rx="4" fill="#3e4636"/>
</g>
<g>
<rect x="3501" y="625" width="334" height="196" fill="#d6a646"/>
<polygon points="3690,690 3740,660 3780,625 3835,625 3835,780 3770,770 3720,740" fill="#141414"/>
<polygon points="3501,670 3545,675 3560,700 3545,760 3560,790 3530,800 3501,810" fill="#1a1a1a"/>
<path d="M3600,720 L3665,715 L3660,800 L3605,805 Z" fill="#c8a08a" stroke="#8c6c60" stroke-width="3"/>
<rect x="3650" y="690" width="60" height="25" fill="#e8e0d8" transform="rotate(-20 3680 702)"/>
<ellipse cx="3660" cy="800" rx="80" ry="14" fill="#b88c38"/>
</g>
<g>
<rect x="3867" y="625" width="341" height="196" fill="#555"/>
<rect x="3867" y="625" width="169" height="97" fill="#ececec"/><rect x="3890" y="632" width="120" height="30" fill="#c8c8c8"/><rect x="3880" y="690" width="140" height="15" fill="#f8f8f8"/><rect x="3905" y="680" width="10" height="40" fill="#111"/><rect x="3990" y="680" width="10" height="40" fill="#111"/>
<rect x="4039" y="625" width="169" height="97" fill="#e8e8e8"/><rect x="4039" y="625" width="169" height="32" fill="#4d6b60"/><rect x="4075" y="680" width="10" height="40" fill="#111"/><rect x="4165" y="680" width="10" height="40" fill="#111"/>
<rect x="3867" y="724" width="169" height="97" fill="#c8c8c8"/><ellipse cx="3950" cy="780" rx="62" ry="30" fill="#f4f4f4"/><rect x="3905" y="780" width="10" height="40" fill="#111"/><rect x="3990" y="780" width="10" height="40" fill="#111"/>
<rect x="4039" y="724" width="169" height="97" fill="#7a7a60"/><rect x="4039" y="724" width="169" height="25" fill="#e0e0e0"/><ellipse cx="4123" cy="782" rx="65" ry="30" fill="#c9a048"/><rect x="4070" y="785" width="10" height="36" fill="#111"/><rect x="4170" y="785" width="10" height="36" fill="#111"/>
</g>

<text x="2887" y="891" class="s b n" font-size="49" textLength="448" lengthAdjust="spacingAndGlyphs">Instruction Following</text>
<text x="2915" y="948" class="s" font-size="49">•</text>
<text x="2955" y="948" class="s" font-size="49" textLength="1207" lengthAdjust="spacingAndGlyphs">Pour water to specified 1/3 and 2/3 levels (<tspan class="p">unseen</tspan> in training)</text>
<g>
<rect x="2898" y="977" width="291" height="167" fill="#ececec"/><rect x="2898" y="977" width="291" height="25" fill="#9e9c98"/>
<path d="M2910,1144 L2912,1060 L2940,1025 L2990,1035 L3020,1050" stroke="#151515" stroke-width="18" fill="none"/>
<path d="M3180,1144 L3175,1085 L3140,1055 L3100,1045" stroke="#151515" stroke-width="18" fill="none"/>
<rect x="3030" y="1030" width="30" height="25" fill="#151515"/><rect x="3100" y="1025" width="35" height="30" fill="#151515"/>
<rect x="3050" y="1060" width="28" height="35" fill="#d8d8e0" stroke="#888" stroke-width="2"/>
<rect x="3120" y="1120" width="60" height="24" fill="#151515"/>
</g>
<g>
<rect x="3245" y="977" width="281" height="167" fill="#d8d4d0"/>
<g fill="#a89686"><rect x="3247" y="979" width="67" height="30"/><rect x="3317" y="979" width="67" height="30"/><rect x="3387" y="979" width="67" height="30"/><rect x="3457" y="979" width="67" height="30"/><rect x="3247" y="1062" width="67" height="30"/><rect x="3317" y="1062" width="67" height="30"/><rect x="3387" y="1062" width="67" height="30"/><rect x="3457" y="1062" width="67" height="30"/></g>
<g stroke="#999" stroke-width="2"><line x1="3315" y1="977" x2="3315" y2="1144"/><line x1="3385" y1="977" x2="3385" y2="1144"/><line x1="3455" y1="977" x2="3455" y2="1144"/><line x1="3245" y1="1060" x2="3526" y2="1060"/></g>
<g fill="#b8b8b8" stroke="#666" stroke-width="3"><rect x="3265" y="1008" width="30" height="42"/><rect x="3335" y="1008" width="30" height="42"/><rect x="3405" y="1008" width="30" height="42"/><rect x="3475" y="1008" width="30" height="42"/><rect x="3265" y="1092" width="30" height="42"/><rect x="3335" y="1092" width="30" height="42"/><rect x="3405" y="1092" width="30" height="42"/><rect x="3475" y="1092" width="30" height="42"/></g>
<g fill="#4caf50"><circle cx="3280" cy="988" r="7"/><circle cx="3350" cy="988" r="7"/><circle cx="3420" cy="988" r="7"/><circle cx="3490" cy="988" r="7"/><circle cx="3280" cy="1071" r="7"/><circle cx="3350" cy="1071" r="7"/><circle cx="3420" cy="1071" r="7"/><circle cx="3490" cy="1071" r="7"/></g>
<text x="3495" y="1138" class="s" font-size="24" fill="#333">1/3</text>
</g>
<g>
<rect x="3580" y="977" width="285" height="167" fill="#ececec"/><rect x="3580" y="977" width="285" height="40" fill="#9e9c98"/>
<path d="M3590,1144 L3592,1060 L3615,1030 L3650,1020 L3680,1030" stroke="#151515" stroke-width="18" fill="none"/>
<path d="M3855,1144 L3848,1070 L3820,1030 L3780,1040" stroke="#151515" stroke-width="18" fill="none"/>
<rect x="3660" y="1000" width="30" height="30" fill="#151515"/><rect x="3750" y="1030" width="30" height="30" fill="#151515"/>
<rect x="3655" y="1080" width="28" height="35" fill="#d8d8e0" stroke="#888" stroke-width="2"/>
</g>
<g>
<rect x="3914" y="977" width="291" height="167" fill="#d8d4d0"/>
<g fill="#a89686"><rect x="3916" y="979" width="70" height="30"/><rect x="3988" y="979" width="70" height="30"/><rect x="4060" y="979" width="70" height="30"/><rect x="4132" y="979" width="71" height="30"/><rect x="3916" y="1062" width="70" height="30"/><rect x="3988" y="1062" width="70" height="30"/><rect x="4060" y="1062" width="70" height="30"/><rect x="4132" y="1062" width="71" height="30"/></g>
<g stroke="#999" stroke-width="2"><line x1="3987" y1="977" x2="3987" y2="1144"/><line x1="4059" y1="977" x2="4059" y2="1144"/><line x1="4131" y1="977" x2="4131" y2="1144"/><line x1="3914" y1="1060" x2="4205" y2="1060"/></g>
<g fill="#b8b8b8" stroke="#666" stroke-width="3"><rect x="3935" y="1008" width="30" height="42"/><rect x="4007" y="1008" width="30" height="42"/><rect x="4079" y="1008" width="30" height="42"/><rect x="4151" y="1008" width="30" height="42"/><rect x="3935" y="1092" width="30" height="42"/><rect x="4007" y="1092" width="30" height="42"/><rect x="4079" y="1092" width="30" height="42"/><rect x="4151" y="1092" width="30" height="42"/></g>
<g fill="#4caf50"><circle cx="3950" cy="988" r="7"/><circle cx="4022" cy="988" r="7"/><circle cx="4094" cy="988" r="7"/><circle cx="4166" cy="988" r="7"/><circle cx="3950" cy="1071" r="7"/><circle cx="4094" cy="1071" r="7"/></g>
<g fill="#e53935"><circle cx="4022" cy="1071" r="7"/><circle cx="4166" cy="1071" r="7"/></g>
<text x="4170" y="1138" class="s" font-size="24" fill="#333">2/3</text>
</g>

<text x="2887" y="1220" class="s b n" font-size="49" textLength="657" lengthAdjust="spacingAndGlyphs">Few-Shot Learning &amp; Dexterity</text>
<text x="2915" y="1277" class="s" font-size="49">•</text>
<text x="2955" y="1277" class="s" font-size="49" textLength="1250" lengthAdjust="spacingAndGlyphs">Learn new skills in <tspan class="p">1-5</tspan> shots; control <tspan class="p">robot dog</tspan> to walk straight</text>
<g>
<rect x="2898" y="1306" width="305" height="181" fill="#f0f0f0"/><rect x="2898" y="1306" width="305" height="62" fill="#9e9c98"/>
<path d="M2925,1487 L2922,1380 L2950,1360 L2985,1375" stroke="#151515" stroke-width="20" fill="none"/>
<path d="M3180,1487 L3185,1380 L3160,1360 L3120,1370" stroke="#151515" stroke-width="20" fill="none"/>
<path d="M2985,1400 Q3050,1440 3120,1395 L3110,1440 L2995,1445 Z" fill="#1c1c1c"/>
<rect x="2978" y="1410" width="10" height="30" fill="#e07a2a"/>
</g>
<g>
<rect x="3230" y="1306" width="303" height="181" fill="#ededed"/><rect x="3230" y="1306" width="303" height="40" fill="#9e9c98"/>
<path d="M3235,1345 L3270,1420 L3330,1440 L3380,1420" stroke="#151515" stroke-width="22" fill="none"/>
<path d="M3530,1330 L3500,1380 L3440,1400 L3400,1420" stroke="#151515" stroke-width="22" fill="none"/>
<rect x="3300" y="1350" width="45" height="50" fill="#1a1a1a"/><rect x="3420" y="1340" width="40" height="50" fill="#1a1a1a"/>
</g>
<g>
<rect x="3564" y="1306" width="303" height="181" fill="#d8d8d4"/>
<polygon points="3564,1306 3680,1306 3690,1420 3564,1487" fill="#b4b8b8"/>
<polygon points="3867,1306 3760,1306 3750,1420 3867,1487" fill="#bcc0c0"/>
<g stroke="#7a7e7e" stroke-width="3"><line x1="3590" y1="1306" x2="3595" y2="1470"/><line x1="3625" y1="1306" x2="3628" y2="1450"/><line x1="3660" y1="1306" x2="3662" y2="1430"/><line x1="3840" y1="1306" x2="3836" y2="1470"/><line x1="3805" y1="1306" x2="3802" y2="1450"/><line x1="3775" y1="1306" x2="3773" y2="1430"/></g>
<polygon points="3690,1420 3750,1420 3867,1487 3564,1487" fill="#e4e2dc"/>
<rect x="3705" y="1345" width="22" height="22" fill="#222"/><line x1="3708" y1="1367" x2="3708" y2="1385" stroke="#222" stroke-width="4"/><line x1="3724" y1="1367" x2="3724" y2="1385" stroke="#222" stroke-width="4"/>
<path d="M3595,1487 L3595,1420 L3630,1385 L3680,1405" stroke="#111" stroke-width="18" fill="none"/>
<path d="M3835,1487 L3840,1420 L3805,1385 L3760,1405" stroke="#111" stroke-width="18" fill="none"/>
<rect x="3685" y="1460" width="60" height="18" fill="#222"/>
</g>
<g>
<rect x="3898" y="1306" width="303" height="181" fill="#d8d8d4"/>
<polygon points="3898,1306 4014,1306 4024,1420 3898,1487" fill="#b4b8b8"/>
<polygon points="4201,1306 4094,1306 4084,1420 4201,1487" fill="#bcc0c0"/>
<g stroke="#7a7e7e" stroke-width="3"><line x1="3924" y1="1306" x2="3929" y2="1470"/><line x1="3959" y1="1306" x2="3962" y2="1450"/><line x1="3994" y1="1306" x2="3996" y2="1430"/><line x1="4174" y1="1306" x2="4170" y2="1470"/><line x1="4139" y1="1306" x2="4136" y2="1450"/><line x1="4109" y1="1306" x2="4107" y2="1430"/></g>
<polygon points="4024,1420 4084,1420 4201,1487 3898,1487" fill="#e4e2dc"/>
<rect x="4045" y="1325" width="18" height="16" fill="#222"/><line x1="4047" y1="1341" x2="4047" y2="1355" stroke="#222" stroke-width="3"/><line x1="4061" y1="1341" x2="4061" y2="1355" stroke="#222" stroke-width="3"/>
<path d="M3929,1487 L3929,1420 L3964,1385 L4014,1405" stroke="#111" stroke-width="18" fill="none"/>
<path d="M4169,1487 L4174,1420 L4139,1385 L4094,1405" stroke="#111" stroke-width="18" fill="none"/>
<rect x="4019" y="1460" width="60" height="18" fill="#222"/>
</g>

<text x="2893" y="1562" class="s b n" font-size="49" textLength="574" lengthAdjust="spacingAndGlyphs">Comparison with Baselines</text>

<g class="a" font-size="16" fill="#595959">
<rect x="3308" y="1602" width="10" height="12" fill="#4a90d9"/><text x="3322" y="1614">ACT</text>
<rect x="3376" y="1602" width="10" height="12" fill="#e8702a"/><text x="3390" y="1614">OpenVLA</text>
<rect x="3489" y="1602" width="10" height="12" fill="#1b6e20"/><text x="3503" y="1614">Octo</text>
<rect x="3564" y="1602" width="10" height="12" fill="#8cd870"/><text x="3578" y="1614">RDT (scratch)</text>
<rect x="3710" y="1602" width="10" height="12" fill="#c94058"/><text x="3724" y="1614">RDT (ours)</text>
</g>
<g stroke="#dcdcdc" stroke-width="3">
<line x1="2965" y1="1640" x2="4199" y2="1640"/><line x1="2965" y1="1700" x2="4199" y2="1700"/><line x1="2965" y1="1761" x2="4199" y2="1761"/><line x1="2965" y1="1821" x2="4199" y2="1821"/><line x1="2965" y1="1882" x2="4199" y2="1882"/>
</g>
<g class="a" font-size="18" fill="#595959" text-anchor="end">
<text x="2948" y="1948">0</text><text x="2948" y="1888">20</text><text x="2948" y="1827">40</text><text x="2948" y="1767">60</text><text x="2948" y="1706">80</text><text x="2948" y="1646">100</text>
</g>
<text transform="translate(2912,1795) rotate(-90)" text-anchor="middle" class="a" font-size="18" fill="#595959" letter-spacing="2">Success Rate (%)</text>
<g>
<rect x="2976" y="1905" width="36.6" height="37" fill="#4a90d9"/><rect x="3012.6" y="1937" width="36.6" height="5" fill="#e8702a"/><rect x="3049.2" y="1937" width="36.6" height="5" fill="#1b6e20"/><rect x="3085.8" y="1837" width="36.6" height="105" fill="#8cd870"/><rect x="3122.4" y="1736" width="36.6" height="206" fill="#c94058"/>
<rect x="3182" y="1845" width="36.6" height="97" fill="#4a90d9"/><rect x="3255.2" y="1936" width="36.6" height="6" fill="#1b6e20"/><rect x="3291.8" y="1797" width="36.6" height="145" fill="#8cd870"/><rect x="3328.4" y="1755" width="36.6" height="187" fill="#c94058"/>
<rect x="3534.4" y="1766" width="36.6" height="176" fill="#c94058"/>
<rect x="3630.6" y="1917" width="36.6" height="25" fill="#e8702a"/><rect x="3703.8" y="1772" width="36.6" height="170" fill="#8cd870"/><rect x="3740.4" y="1665" width="36.6" height="277" fill="#c94058"/>
<rect x="3800" y="1892" width="36.6" height="50" fill="#4a90d9"/><rect x="3873.2" y="1929" width="36.6" height="13" fill="#1b6e20"/><rect x="3909.8" y="1816" width="36.6" height="126" fill="#8cd870"/><rect x="3946.4" y="1716" width="36.6" height="226" fill="#c94058"/>
<rect x="4079.2" y="1936" width="36.6" height="6" fill="#1b6e20"/><rect x="4115.8" y="1857" width="36.6" height="85" fill="#8cd870"/><rect x="4152.4" y="1779" width="36.6" height="163" fill="#c94058"/>
</g>
<line x1="2965" y1="1942" x2="4199" y2="1942" stroke="#c8c8c8" stroke-width="3"/>
<rect x="2960" y="1605" width="211" height="380" fill="#000" opacity="0.1"/>
<g class="a" font-size="17" fill="#404040" text-anchor="middle">
<text x="2994" y="1894">12.2</text><text x="3031" y="1926">1.7</text><text x="3067" y="1926">1.6</text><text x="3104" y="1826">34.8</text><text x="3141" y="1725">68.2</text>
<text x="3200" y="1834">32.0</text><text x="3237" y="1931">0.0</text><text x="3273" y="1925">2.0</text><text x="3310" y="1786">48.0</text><text x="3347" y="1744">62.0</text>
<text x="3406" y="1931">0.0</text><text x="3443" y="1931">0.0</text><text x="3479" y="1931">0.0</text><text x="3516" y="1931">0.0</text><text x="3553" y="1755">58.3</text>
<text x="3649" y="1906">8.3</text><text x="3686" y="1931">0.0</text><text x="3722" y="1761">56.3</text><text x="3759" y="1654">91.7</text>
<text x="3818" y="1881">16.7</text><text x="3855" y="1931">0.0</text><text x="3891" y="1918">4.2</text><text x="3928" y="1805">41.7</text><text x="3965" y="1704">75.0</text>
<text x="4024" y="1931">0.0</text><text x="4061" y="1931">0.0</text><text x="4097" y="1925">2.0</text><text x="4134" y="1846">28.0</text><text x="4171" y="1768">54.0</text>
</g>
<g class="a" font-size="17" fill="#595959" text-anchor="middle">
<text x="3068" y="1975">Average</text><text x="3275" y="1975">Dexterity</text><text x="3480" y="1975">Unseen Object</text><text x="3686" y="1975">Instruction Following</text><text x="3891" y="1975">Unseen Scene</text><text x="4098" y="1975">Few-Shot Learning</text>
</g>

<text x="2893" y="2077" class="s b n" font-size="49" textLength="342" lengthAdjust="spacingAndGlyphs">Ablation Studies</text>
<text x="2910" y="2132" class="s" font-size="49">•</text>
<text x="2962" y="2132" class="s" font-size="49" textLength="1158" lengthAdjust="spacingAndGlyphs">Modifications, diffusion, large model size, and pre-training:</text>
<line x1="2900" y1="2199" x2="3554" y2="2199" stroke="#333" stroke-width="3"/>
<line x1="2900" y1="2267" x2="3554" y2="2267" stroke="#333" stroke-width="2"/>
<line x1="2900" y1="2402" x2="3554" y2="2402" stroke="#333" stroke-width="3"/>
<g class="s" font-size="21" text-anchor="middle">
<text x="2987" y="2223">VARIANT</text><text x="2987" y="2257">NAME</text>
<text x="3143" y="2223">UNSEEN</text><text x="3143" y="2257">OBJECT</text>
<text x="3277" y="2223">UNSEEN</text><text x="3277" y="2257">SCENE</text>
<text x="3450" y="2223">INSTRUCTION</text><text x="3450" y="2257">FOLLOWING</text>
</g>
<g class="s" font-size="23">
<text x="2914" y="2292">RDT (regress)</text><text x="2914" y="2325">RDT (small)</text><text x="2914" y="2358">RDT (scratch)</text><text x="2914" y="2392">RDT (<tspan font-weight="bold">ours</tspan>)</text>
</g>
<g class="s" font-size="23" text-anchor="middle">
<text x="3143" y="2292">12.5</text><text x="3277" y="2292">50</text><text x="3450" y="2292">12.5</text>
<text x="3143" y="2325">37.5</text><text x="3277" y="2325" font-weight="bold">62.5</text><text x="3450" y="2325">25</text>
<text x="3143" y="2358">0</text><text x="3277" y="2358">25</text><text x="3450" y="2358">62.5</text>
<text x="3143" y="2392" font-weight="bold">50</text><text x="3277" y="2392" font-weight="bold">62.5</text><text x="3450" y="2392" font-weight="bold">100</text>
</g>
<rect x="3649" y="2178" width="235" height="175" fill="#fff" stroke="#444" stroke-width="1.5"/>
<g stroke="#e2e2e2" stroke-width="2"><line x1="3649" y1="2193" x2="3884" y2="2193"/><line x1="3649" y1="2232" x2="3884" y2="2232"/><line x1="3649" y1="2270" x2="3884" y2="2270"/><line x1="3649" y1="2310" x2="3884" y2="2310"/><line x1="3649" y1="2350" x2="3884" y2="2350"/><line x1="3725" y1="2178" x2="3725" y2="2353"/><line x1="3791" y1="2178" x2="3791" y2="2353"/><line x1="3857" y1="2178" x2="3857" y2="2353"/></g>
<path d="M3660,2345 L3660,2232 L3664,2270 L3670,2300 L3680,2325 L3690,2335 L3700,2340 L3710,2333 L3720,2342 L3730,2336 L3734,2200 L3737,2338 L3750,2344 L3760,2335 L3770,2342 L3781,2185 L3784,2330 L3795,2343 L3810,2336 L3825,2345 L3840,2338 L3855,2344 L3870,2348 L3874,2345 Z" fill="#6e8fbf"/>
<path d="M3660,2232 L3663,2262 L3666,2282 L3672,2288 L3680,2280 L3688,2290 L3696,2278 L3704,2288 L3712,2276 L3720,2286 L3728,2278 L3736,2284 L3744,2274 L3752,2286 L3760,2276 L3768,2288 L3776,2278 L3784,2284 L3792,2274 L3800,2286 L3808,2278 L3816,2288 L3824,2276 L3832,2286 L3840,2278 L3848,2284 L3856,2276 L3864,2286 L3874,2280 L3874,2342 L3864,2334 L3856,2344 L3848,2336 L3840,2342 L3832,2334 L3824,2340 L3816,2332 L3808,2340 L3800,2334 L3792,2338 L3784,2330 L3776,2336 L3768,2330 L3760,2336 L3752,2328 L3744,2334 L3736,2326 L3728,2332 L3720,2324 L3712,2330 L3704,2322 L3696,2326 L3688,2318 L3680,2322 L3672,2310 L3666,2295 Z" fill="#b04a6a"/>
<rect x="3792" y="2184" width="88" height="48" fill="#fff" stroke="#ddd" stroke-width="1"/>
<line x1="3797" y1="2196" x2="3818" y2="2196" stroke="#6e8fbf" stroke-width="3"/><text x="3823" y="2201" class="s" font-size="13">w/o *N</text>
<line x1="3797" y1="2214" x2="3818" y2="2214" stroke="#b04a6a" stroke-width="3"/><text x="3823" y="2219" class="s" font-size="13">RDT</text>
<g class="s" font-size="13" text-anchor="end"><text x="3645" y="2197">10<tspan font-size="9" dy="-6">0</tspan></text><text x="3645" y="2236">10<tspan font-size="9" dy="-6">-1</tspan></text><text x="3645" y="2274">10<tspan font-size="9" dy="-6">-2</tspan></text><text x="3645" y="2314">10<tspan font-size="9" dy="-6">-3</tspan></text><text x="3645" y="2354">10<tspan font-size="9" dy="-6">-4</tspan></text></g>
<text transform="translate(3608,2265) rotate(-90)" text-anchor="middle" class="s" font-size="15" letter-spacing="2">Loss</text>
<g class="s" font-size="14" text-anchor="middle"><text x="3725" y="2368">20K</text><text x="3791" y="2368">40K</text><text x="3857" y="2368">60K</text><text x="3767" y="2388" font-size="16">Training Steps</text></g>
<text x="3741" y="2425" text-anchor="middle" class="s" font-size="19" textLength="288" lengthAdjust="spacingAndGlyphs">(a) Loss w/o QKN &amp; RMSN</text>
<rect x="3960" y="2181" width="237" height="166" fill="#fff" stroke="#444" stroke-width="1.5"/>
<rect x="3974" y="2294" width="35" height="53" fill="#6e8fbf"/><rect x="4009" y="2327" width="35" height="20" fill="#dde4f0"/>
<rect x="4117" y="2243" width="35" height="104" fill="#6e8fbf"/><rect x="4152" y="2326" width="36" height="21" fill="#9fa8b5"/>
<g class="s" font-size="13" text-anchor="middle"><text x="3991" y="2288">32</text><text x="4026" y="2321">12</text><text x="4134" y="2237">62.5</text><text x="4170" y="2320">12.5</text></g>
<rect x="3969" y="2187" width="92" height="56" fill="#fff" stroke="#ddd"/>
<rect x="3974" y="2192" width="16" height="10" fill="#6e8fbf"/><text x="3995" y="2202" class="s" font-size="11">RDT</text>
<rect x="3974" y="2209" width="16" height="10" fill="#dde4f0"/><text x="3995" y="2219" class="s" font-size="11">w/o MLP</text>
<rect x="3974" y="2226" width="16" height="10" fill="#9fa8b5"/><text x="3995" y="2236" class="s" font-size="11">w/o ACI</text>
<g class="s" font-size="12" text-anchor="end"><text x="3957" y="2351">0</text><text x="3957" y="2318">20</text><text x="3957" y="2285">40</text><text x="3957" y="2251">60</text><text x="3957" y="2218">80</text><text x="3957" y="2185">100</text></g>
<text transform="translate(3928,2265) rotate(-90)" text-anchor="middle" class="s" font-size="14" letter-spacing="1">Success Rate (%)</text>
<g class="s" font-size="14" text-anchor="middle"><text x="4010" y="2363">Dexterity</text><text x="4152" y="2363">Instr. Following</text><text x="4081" y="2381" font-size="16">Task</text></g>
<text x="4057" y="2425" text-anchor="middle" class="s" font-size="19" textLength="252" lengthAdjust="spacingAndGlyphs">(b) Task w/o MLP or ACI</text>

<text x="2900" y="2497" class="s b n" font-size="49" textLength="697" lengthAdjust="spacingAndGlyphs">ManiSkill Simulation Benchmark</text>
<g>
<rect x="2900" y="2529" width="981" height="45" fill="#f7f7f7"/>
<rect x="2900" y="2574" width="981" height="45" fill="#fff"/>
<rect x="2900" y="2619" width="981" height="45" fill="#f7f7f7"/>
<rect x="2900" y="2664" width="981" height="45" fill="#fff"/>
<rect x="2900" y="2709" width="981" height="45" fill="#f7f7f7"/>
<g stroke="#e3e3e3" stroke-width="2" fill="none">
<rect x="2900" y="2529" width="981" height="225"/>
<line x1="2900" y1="2574" x2="3881" y2="2574"/><line x1="2900" y1="2619" x2="3881" y2="2619"/><line x1="2900" y1="2664" x2="3881" y2="2664"/><line x1="2900" y1="2709" x2="3881" y2="2709"/>
<line x1="3081" y1="2529" x2="3081" y2="2754"/><line x1="3287" y1="2529" x2="3287" y2="2754"/><line x1="3432" y1="2529" x2="3432" y2="2754"/><line x1="3578" y1="2529" x2="3578" y2="2754"/><line x1="3737" y1="2529" x2="3737" y2="2754"/>
</g>
<g class="a" font-size="15" fill="#333">
<g font-weight="bold"><text x="3097" y="2558">PegInsertionSide</text><text x="3303" y="2558">PickCube</text><text x="3448" y="2558">StackCube</text><text x="3594" y="2558">PlugCharger</text><text x="3753" y="2558">PushCube</text></g>
<text x="2916" y="2602">RDT</text><text x="3097" y="2602" font-weight="bold">13.2±0.29%</text><text x="3303" y="2602" font-weight="bold">77.2±0.48%</text><text x="3448" y="2602">74.0±0.30%</text><text x="3594" y="2602" font-weight="bold">1.2±0.07%</text><text x="3753" y="2602" font-weight="bold">100±0.00%</text>
<text x="2916" y="2647">OpenVLA</text><text x="3097" y="2647">0.0±0.00%</text><text x="3303" y="2647">8±0.00%</text><text x="3448" y="2647">8±0.00%</text><text x="3594" y="2647">0.0±0.00%</text><text x="3753" y="2647">8±0.00%</text>
<text x="2916" y="2692">Octo</text><text x="3097" y="2692">0.0±0.00%</text><text x="3303" y="2692">0.0±0.00%</text><text x="3448" y="2692">0.0±0.00%</text><text x="3594" y="2692">0.0±0.00%</text><text x="3753" y="2692">0.0±0.00%</text>
<text x="2916" y="2737">Diffusion-Policy</text><text x="3097" y="2737">0.0±0.00%</text><text x="3303" y="2737">40.0±0.00%</text><text x="3448" y="2737" font-weight="bold">80.0±0.00%</text><text x="3594" y="2737">0.0%±0.00%</text><text x="3753" y="2737">88.0±0.00%</text>
</g>
</g>
<g>
<rect x="3940" y="2516" width="114" height="113" fill="#8c8e92"/><polygon points="3940,2570 4000,2550 4054,2590 4054,2629 3940,2629" fill="#b4643a"/>
<path d="M3985,2590 L3988,2560 L4000,2540 L4010,2560 L4015,2590" stroke="#e0e0e0" stroke-width="9" fill="none"/><circle cx="3993" cy="2604" r="3" fill="#e02020"/><circle cx="4005" cy="2596" r="3" fill="#30c030"/>
<rect x="4083" y="2516" width="114" height="114" fill="#8c8e92"/><polygon points="4083,2560 4150,2545 4197,2580 4197,2630 4083,2630" fill="#b4643a"/>
<path d="M4100,2530 L4110,2560 L4130,2580 L4140,2600" stroke="#e0e0e0" stroke-width="10" fill="none"/><rect x="4150" y="2565" width="25" height="28" fill="#e8c070"/>
<rect x="3940" y="2656" width="114" height="113" fill="#8c8e92"/><polygon points="3940,2700 4000,2695 4054,2725 4054,2769 3940,2769" fill="#b4643a"/>
<rect x="3960" y="2660" width="30" height="35" fill="#e6e6e6"/><rect x="3985" y="2700" width="12" height="25" fill="#f0f0f0"/><rect x="3950" y="2722" width="8" height="8" fill="#fff"/>
<rect x="4083" y="2656" width="114" height="113" fill="#8c8e92"/><polygon points="4083,2710 4150,2695 4197,2720 4197,2769 4083,2769" fill="#b4643a"/>
<path d="M4130,2700 L4140,2680 L4155,2670 L4160,2700" stroke="#e0e0e0" stroke-width="9" fill="none"/><circle cx="4100" cy="2750" r="9" fill="#fff" stroke="#e03030" stroke-width="3"/><circle cx="4140" cy="2740" r="3" fill="#2040c0"/>
</g>
</svg>
</body></html>
